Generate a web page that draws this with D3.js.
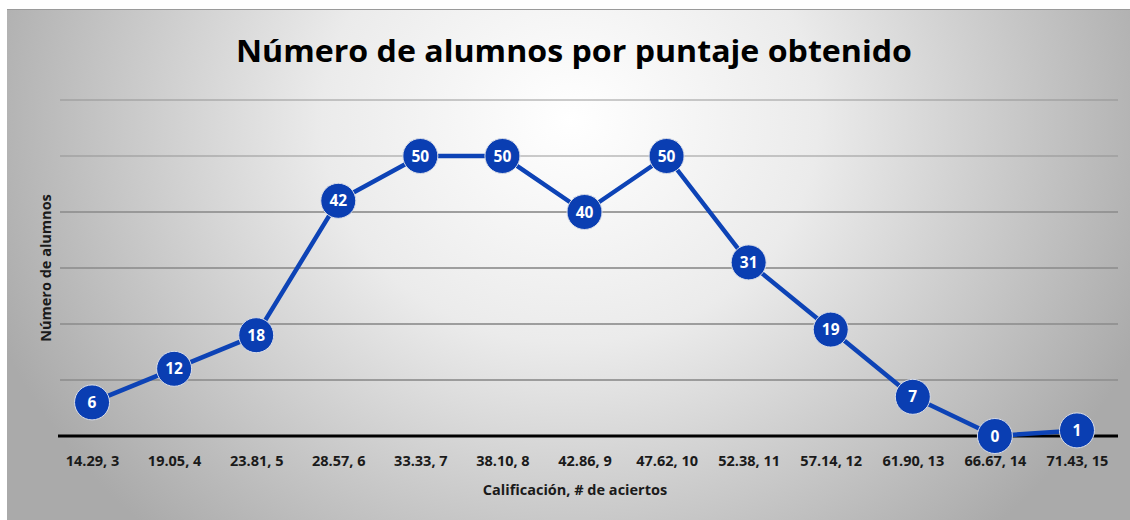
<!DOCTYPE html>
<html>
<head>
<meta charset="utf-8">
<script src="https://cdn.jsdelivr.net/npm/d3@7"></script>
<style>
  body { margin: 0; background: #fff; }
  svg { display: block; }
</style>
</head>
<body>
<div class="chart"></div>
<script>
// Data
const categories = ["14.29, 3", "19.05, 4", "23.81, 5", "28.57, 6", "33.33, 7", "38.10, 8", "42.86, 9",
  "47.62, 10", "52.38, 11", "57.14, 12", "61.90, 13", "66.67, 14", "71.43, 15"];
const values = [6, 12, 18, 42, 50, 50, 40, 50, 31, 19, 7, 0, 1];
const gridTicks = [10, 20, 30, 40, 50, 60];

const width = 1130, height = 520;
const font = "'Open Sans', 'Liberation Sans', sans-serif";

const svg = d3.select(".chart").append("svg")
  .attr("width", width)
  .attr("height", height);

// Background gradient
const grad = svg.append("defs").append("radialGradient")
  .attr("id", "bg")
  .attr("gradientUnits", "userSpaceOnUse")
  .attr("cx", 570).attr("cy", 120).attr("r", 620)
  .attr("gradientTransform", "translate(570,120) scale(1,0.9) translate(-570,-120)");
grad.append("stop").attr("offset", "0%").attr("stop-color", "#ffffff");
grad.append("stop").attr("offset", "40%").attr("stop-color", "#ebebeb");
grad.append("stop").attr("offset", "100%").attr("stop-color", "#aaaaaa");

svg.append("rect")
  .attr("x", 7).attr("y", 9)
  .attr("width", width - 7).attr("height", height - 9)
  .attr("fill", "url(#bg)");
svg.append("line")
  .attr("x1", 7).attr("x2", width).attr("y1", 9.5).attr("y2", 9.5)
  .attr("stroke", "#9a9a9a").attr("stroke-width", 1);

// Scales
const x = d3.scalePoint()
  .domain(categories)
  .range([51, 1118])
  .padding(0.5);

const y = d3.scaleLinear()
  .domain([0, 60])
  .range([436, 100]);

// Gridlines
svg.append("g")
  .selectAll("line")
  .data(gridTicks).enter()
  .append("line")
  .attr("x1", 60).attr("x2", 1118)
  .attr("y1", d => y(d)).attr("y2", d => y(d))
  .attr("stroke", "#8f8f8f")
  .attr("stroke-width", 2)
  .attr("stroke-opacity", d => d >= 50 ? 0.45 : 0.85);

// X axis
const xAxis = svg.append("g")
  .attr("transform", "translate(0," + y(0) + ")")
  .call(d3.axisBottom(x).tickSize(0).tickPadding(20));
xAxis.select(".domain")
  .attr("d", "M58,0H1118")
  .attr("stroke", "#000")
  .attr("stroke-width", 3);
xAxis.selectAll("text")
  .attr("font-family", font)
  .attr("font-size", 14.5)
  .attr("font-weight", "bold")
  .attr("fill", "#1a1a1a");

// Axis titles
svg.append("text")
  .attr("x", 575).attr("y", 495)
  .attr("text-anchor", "middle")
  .attr("font-family", font)
  .attr("font-size", 14.5)
  .attr("font-weight", "bold")
  .attr("fill", "#1a1a1a")
  .text("Calificación, # de aciertos");

svg.append("text")
  .attr("transform", "translate(51,268) rotate(-90)")
  .attr("text-anchor", "middle")
  .attr("font-family", font)
  .attr("font-size", 14.5)
  .attr("font-weight", "bold")
  .attr("fill", "#1a1a1a")
  .text("Número de alumnos");

// Title
svg.append("text")
  .attr("x", 574).attr("y", 62)
  .attr("text-anchor", "middle")
  .attr("font-family", font)
  .attr("font-size", 31)
  .attr("font-weight", "bold")
  .attr("fill", "#000")
  .attr("textLength", 676)
  .attr("lengthAdjust", "spacingAndGlyphs")
  .text("Número de alumnos por puntaje obtenido");

// Line
const line = d3.line()
  .x((d, i) => x(categories[i]))
  .y(d => y(d));

svg.append("path")
  .datum(values)
  .attr("d", line)
  .attr("fill", "none")
  .attr("stroke", "#0d43b6")
  .attr("stroke-width", 4.5)
  .attr("stroke-linejoin", "round");

// Points
const pts = svg.append("g")
  .selectAll("g")
  .data(values).enter()
  .append("g")
  .attr("transform", (d, i) => "translate(" + x(categories[i]) + "," + y(d) + ")");

pts.append("circle")
  .attr("r", 17.5)
  .attr("fill", "#0a3eb2")
  .attr("stroke", "#d9dde8")
  .attr("stroke-width", 1);

pts.append("text")
  .attr("text-anchor", "middle")
  .attr("dy", "0.36em")
  .attr("font-family", font)
  .attr("font-size", 15.5)
  .attr("font-weight", "bold")
  .attr("fill", "#fff")
  .text(d => d);
</script>
</body>
</html>
